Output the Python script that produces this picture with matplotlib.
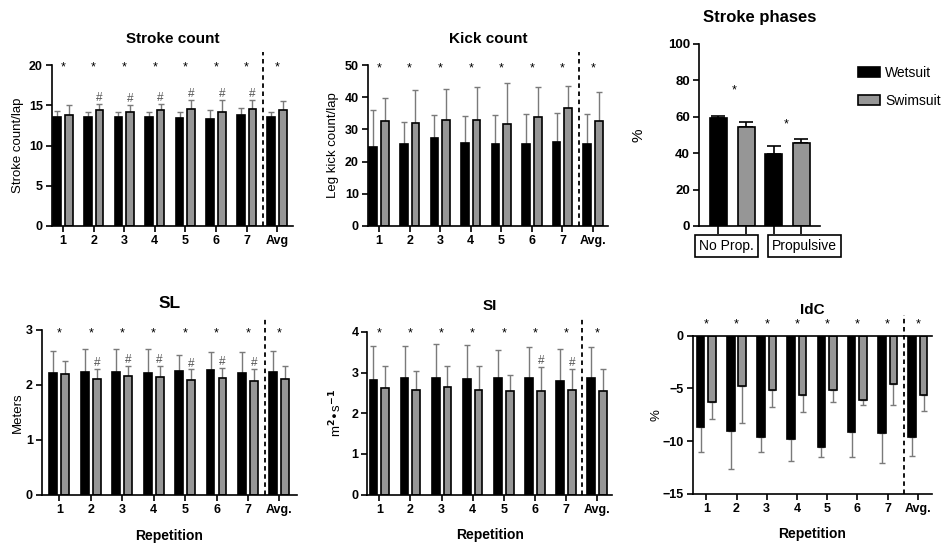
import numpy as np
import matplotlib
matplotlib.use('Agg')
import matplotlib.pyplot as plt
from matplotlib.patches import Patch
import matplotlib.transforms as mtransforms

plt.rcParams['font.family'] = ['Liberation Sans', 'DejaVu Sans']
plt.rcParams['font.weight'] = 'bold'
plt.rcParams['axes.linewidth'] = 1.2

GRAY = '#969696'
ERR = '#7a7a7a'

reps = ['1', '2', '3', '4', '5', '6', '7', 'Avg.']

# Stroke count (stroke/lap)
stroke_wet = [13.55, 13.5, 13.5, 13.55, 13.4, 13.25, 13.8, 13.5]
stroke_wet_sd = [0.7, 0.6, 0.6, 0.55, 0.7, 1.15, 0.8, 0.7]
stroke_swim = [13.85, 14.4, 14.2, 14.35, 14.5, 14.2, 14.5, 14.4]
stroke_swim_sd = [1.15, 0.8, 0.8, 0.75, 1.1, 1.5, 1.1, 1.1]

# Kick count (leg kick/lap)
kick_wet = [24.5, 25.4, 27.4, 25.7, 25.4, 25.4, 26.2, 25.4]
kick_wet_sd = [11.4, 6.8, 7.2, 8.5, 9.2, 9.3, 8.9, 9.3]
kick_swim = [32.5, 31.9, 32.9, 32.9, 31.8, 33.7, 36.7, 32.5]
kick_swim_sd = [7.3, 10.2, 9.7, 10.4, 12.5, 9.6, 6.8, 9.0]

# Stroke phases (%)
phases = ['No Prop.', 'Propulsive']
phase_wet = [59.2, 39.7]
phase_wet_sd = [1.5, 4.2]
phase_swim = [54.6, 45.4]
phase_swim_sd = [2.4, 2.2]

# SL (m)
sl_wet = [2.22, 2.24, 2.23, 2.21, 2.26, 2.27, 2.21, 2.23]
sl_wet_sd = [0.39, 0.41, 0.42, 0.44, 0.29, 0.32, 0.38, 0.39]
sl_swim = [2.19, 2.11, 2.16, 2.14, 2.08, 2.12, 2.07, 2.11]
sl_swim_sd = [0.24, 0.18, 0.18, 0.20, 0.20, 0.18, 0.22, 0.24]

# SI (m2/s)
si_wet = [2.82, 2.87, 2.88, 2.85, 2.88, 2.88, 2.79, 2.86]
si_wet_sd = [0.84, 0.79, 0.82, 0.84, 0.67, 0.74, 0.79, 0.78]
si_swim = [2.61, 2.57, 2.65, 2.58, 2.56, 2.54, 2.57, 2.56]
si_swim_sd = [0.56, 0.48, 0.51, 0.58, 0.37, 0.60, 0.52, 0.52]

# IdC (%)
idc_wet = [-8.67, -9.05, -9.65, -9.78, -10.57, -9.12, -9.18, -9.65]
idc_wet_sd = [2.33, 3.6, 1.42, 2.14, 0.94, 2.36, 2.87, 1.74]
idc_swim = [-6.34, -4.76, -5.2, -5.65, -5.14, -6.09, -4.6, -5.65]
idc_swim_sd = [1.55, 3.5, 1.58, 1.57, 1.17, 0.53, 1.93, 1.51]

W, H = 945, 545
fig = plt.figure(figsize=(W / 100, H / 100), dpi=100)


def px_axes(left, top, right, bottom):
    return fig.add_axes([left / W, 1 - bottom / H, (right - left) / W, (bottom - top) / H])


def style(ax):
    for s in ['top', 'right']:
        ax.spines[s].set_visible(False)
    ax.tick_params(length=4, width=1.2, labelsize=9, pad=2.5)


def rep_panel(ax, labels, wet, wet_sd, swim, swim_sd, xlim, ylim, yticks,
              title, ylabel, ylab_x, star_y, hashes, xlabel=False,
              neg=False, dash_top=1.08, title_size=11):
    x = np.arange(len(wet))
    off, w = 0.19, 0.25
    z = np.zeros(len(wet))
    if neg:
        e1, e2 = [wet_sd, z], [swim_sd, z]
    else:
        e1, e2 = [z, wet_sd], [z, swim_sd]
    ax.errorbar(x - off, wet, yerr=e1, fmt='none', ecolor=ERR, elinewidth=1,
                capsize=2.5, capthick=1, zorder=1)
    ax.errorbar(x + off, swim, yerr=e2, fmt='none', ecolor=ERR, elinewidth=1,
                capsize=2.5, capthick=1, zorder=1)
    ax.bar(x - off, wet, w, color='black', edgecolor='black', lw=1.2, zorder=2)
    ax.bar(x + off, swim, w, color=GRAY, edgecolor='black', lw=1.2, zorder=2)
    for i in x:
        ax.text(i, star_y, '*', ha='center', va='center', fontsize=9,
                fontweight='normal')
    for i in hashes:
        top = swim[i] - swim_sd[i] if neg else swim[i] + swim_sd[i]
        ax.annotate('#', (i + off, top), xytext=(0, 4.3),
                    textcoords='offset points', ha='center', va='center',
                    fontsize=8.5, fontweight='normal', color='#555555')
    ax.axvline(6.53, ymin=0, ymax=dash_top, color='black', lw=1.3,
               ls=(0, (2.5, 2)), clip_on=False)
    ax.set_xlim(*xlim)
    ax.set_ylim(*ylim)
    ax.set_yticks(yticks)
    ax.set_xticks(x)
    ax.set_xticklabels(labels)
    style(ax)
    ax.text(0.5, 1.16, title, transform=ax.transAxes, ha='center',
            va='center', fontsize=title_size)
    ax.set_ylabel(ylabel, fontsize=9.5, va='center')
    ax.yaxis.set_label_coords(ylab_x, 0.5)
    if xlabel:
        ax.text(0.5, -0.25, 'Repetition', transform=ax.transAxes,
                ha='center', va='center', fontsize=10)


# Stroke count
ax1 = px_axes(52, 65, 293, 226)
rep_panel(ax1, reps[:-1] + ['Avg'], stroke_wet, stroke_wet_sd, stroke_swim,
          stroke_swim_sd, (-0.36, 7.52), (0, 20), [0, 5, 10, 15, 20],
          'Stroke count', 'Stroke count/lap', -0.141, 19.7, range(1, 7))

# Kick count
ax2 = px_axes(368, 65, 608, 226)
rep_panel(ax2, reps, kick_wet, kick_wet_sd, kick_swim, kick_swim_sd,
          (-0.36, 7.49), (0, 50), [0, 10, 20, 30, 40, 50],
          'Kick count', 'Leg kick count/lap', -0.146, 48.9, [])

# SL
ax4 = px_axes(42, 330, 297, 494.5)
rep_panel(ax4, reps, sl_wet, sl_wet_sd, sl_swim, sl_swim_sd,
          (-0.55, 7.56), (0, 3), [0, 1, 2, 3],
          'SL', 'Meters', -0.094, 2.93, range(1, 7), xlabel=True,
          title_size=12.5)

# SI
ax5 = px_axes(367.5, 332, 612, 494.5)
rep_panel(ax5, reps, si_wet, si_wet_sd, si_swim, si_swim_sd,
          (-0.38, 7.48), (0, 4), [0, 1, 2, 3, 4],
          'SI', r'm$^{\mathbf{2}}$•s$^{\mathbf{-1}}$', -0.129, 3.96, [5, 6],
          xlabel=True)

# IdC
ax6 = px_axes(693, 335.5, 932, 494)
rep_panel(ax6, reps, idc_wet, idc_wet_sd, idc_swim, idc_swim_sd,
          (-0.44, 7.47), (-15, 0), [-15, -10, -5, 0],
          'IdC', '%', -0.151, 1.09, [], xlabel=True, neg=True, dash_top=1.13)
ax6.spines['top'].set_visible(True)
ax6.spines['top'].set_linewidth(1.2)

# Stroke phases
ax3 = px_axes(699, 44, 820, 226)
pos = np.arange(4)
vals = [phase_wet[0], phase_swim[0], phase_wet[1], phase_swim[1]]
sds = [phase_wet_sd[0], phase_swim_sd[0], phase_wet_sd[1], phase_swim_sd[1]]
cols = ['black', GRAY, 'black', GRAY]
ax3.errorbar(pos, vals, yerr=[np.zeros(4), sds], fmt='none', ecolor='black',
             elinewidth=1.2, capsize=5, capthick=1.2, zorder=1)
ax3.bar(pos, vals, 0.61, color=cols, edgecolor='black', lw=1.2, zorder=2)
ax3.text(0.56, 74.4, '*', ha='center', va='center', fontsize=9, fontweight='normal')
ax3.text(2.44, 56, '*', ha='center', va='center', fontsize=9, fontweight='normal')
ax3.set_xlim(-0.7, 3.67)
ax3.set_ylim(0, 100)
ax3.set_yticks([0, 20, 40, 60, 80, 100])
ax3.set_xticks(pos)
ax3.set_xticklabels([])
style(ax3)
ax3.tick_params(axis='y', labelsize=9.5)
ax3.tick_params(axis='x', length=6)
ax3.text(0.5, 1.148, 'Stroke phases', transform=ax3.transAxes, ha='center',
         va='center', fontsize=12)
ax3.set_ylabel('%', fontsize=11, va='center')
ax3.yaxis.set_label_coords(-0.504, 0.5)
trans = mtransforms.blended_transform_factory(ax3.transData, ax3.transAxes)
for xc, lab in zip([0.29, 3.12], phases):
    ax3.text(xc, -0.11, lab, transform=trans, ha='center', va='center',
             fontsize=10, fontweight='normal',
             bbox=dict(boxstyle='square,pad=0.3', fc='white', ec='black', lw=1.2))

fig.legend(handles=[Patch(fc='black', ec='black', lw=1.2, label='Wetsuit'),
                    Patch(fc=GRAY, ec='black', lw=1.2, label='Swimsuit')],
           loc='upper left', bbox_to_anchor=(858 / W, 1 - 66 / H),
           frameon=False, prop={'weight': 'normal', 'size': 10},
           handlelength=1.6, handleheight=0.8, handletextpad=0.35,
           labelspacing=1.0, borderpad=0, borderaxespad=0)

fig.savefig('out.png', dpi=100)
